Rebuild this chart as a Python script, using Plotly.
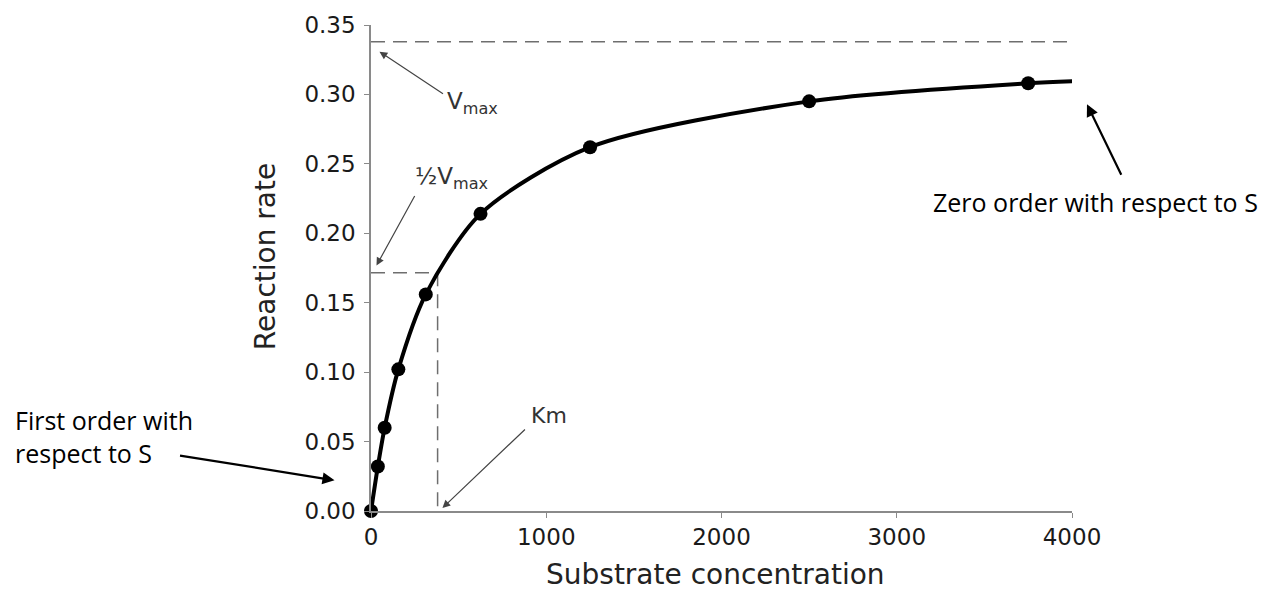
import plotly.graph_objects as go

# ---- data ----
substrate = [0, 39, 78, 156, 312.5, 625, 1250, 2500, 3750]
rate = [0.0, 0.032, 0.060, 0.102, 0.156, 0.214, 0.262, 0.295, 0.308]
curve_end_x = [4020]
curve_end_y = [0.3095]
vmax = 0.338
half_vmax = 0.1715
km = 380
x_ticks = [0, 1000, 2000, 3000, 4000]
y_ticks = [0.00, 0.05, 0.10, 0.15, 0.20, 0.25, 0.30, 0.35]

W, H = 1268, 592
L, R, T, B = 370.5, 196, 20, 81
PW, PH = W - L - R, H - T - B


def px(x):
    return (x - L) / PW


def py(y):
    return (H - B - y) / PH


fig = go.Figure()

# dashed guide lines
dash = "14px,8px"
gcol = "#6e6e6e"
fig.add_trace(go.Scatter(x=[0, 3980], y=[vmax, vmax], mode="lines",
                         line=dict(color=gcol, width=1.5, dash=dash),
                         hoverinfo="skip", showlegend=False))
fig.add_trace(go.Scatter(x=[0, km, km], y=[half_vmax, half_vmax, 0], mode="lines",
                         line=dict(color=gcol, width=1.5, dash=dash),
                         hoverinfo="skip", showlegend=False))

# curve
fig.add_trace(go.Scatter(x=substrate + curve_end_x, y=rate + curve_end_y, mode="lines",
                         line=dict(color="black", width=4, shape="spline", smoothing=0.8),
                         cliponaxis=False, showlegend=False))
# points
fig.add_trace(go.Scatter(x=substrate, y=rate, mode="markers",
                         marker=dict(color="black", size=14),
                         cliponaxis=False, showlegend=False))

ann = []


def arrow(head, tail, color, width, size=1.0):
    ann.append(dict(xref="paper", yref="paper", x=px(head[0]), y=py(head[1]),
                    ax=tail[0] - head[0], ay=tail[1] - head[1], axref="pixel", ayref="pixel",
                    text="", showarrow=True, arrowhead=2, arrowsize=size,
                    arrowwidth=width, arrowcolor=color, standoff=0, startstandoff=0))


def label(text, x, y, xanchor, size, color, family="DejaVu Sans", align="left"):
    ann.append(dict(xref="paper", yref="paper", x=px(x), y=py(y), text=text,
                    showarrow=False, xanchor=xanchor, yanchor="middle", align=align,
                    font=dict(family=family, size=size, color=color)))


arrow((379, 47), (444, 90), "#444", 1.2, 1.3)
arrow((376, 263), (415, 192), "#444", 1.2, 1.3)
arrow((442, 508), (526, 428), "#444", 1.2, 1.3)
arrow((1087, 100), (1122, 172), "black", 2.2, 1.1)
arrow((334, 480), (178, 455), "black", 2.2, 1.1)

label("V<sub>max</sub>", 445, 99, "left", 23, "#333")
label("½V<sub>max</sub>", 413, 175, "left", 23, "#333")
label("Km", 549, 415, "center", 22, "#333")
label("Zero order with respect to S", 931, 199, "left", 25, "black", family="Open Sans")
label("First order with<br>respect to S", 12, 436, "left", 25, "black", family="Open Sans")

# axis titles
ann.append(dict(xref="paper", yref="paper", x=px(265), y=py(254), text="Reaction rate",
                textangle=-90, showarrow=False, xanchor="center", yanchor="middle",
                font=dict(family="DejaVu Sans", size=28, color="#222")))
ann.append(dict(xref="paper", yref="paper", x=px(715), y=py(575), text="Substrate concentration",
                showarrow=False, xanchor="center", yanchor="middle",
                font=dict(family="DejaVu Sans", size=28, color="#222")))

axis_common = dict(showgrid=False, zeroline=False, showline=True, linecolor="#8a8a8a",
                   linewidth=1.5, ticks="outside", ticklen=5, tickcolor="#8a8a8a",
                   tickwidth=1.2, tickfont=dict(family="DejaVu Sans", size=23, color="#1a1a1a"))

fig.update_layout(
    width=W, height=H,
    margin=dict(l=L, r=R, t=T, b=B, pad=0),
    paper_bgcolor="white", plot_bgcolor="white",
    xaxis=dict(range=[0, 4000], tickvals=x_ticks, **axis_common),
    yaxis=dict(range=[0, 0.35], tickvals=y_ticks, tickformat=".2f",
               ticklabelstandoff=4, **axis_common),
    annotations=ann,
    showlegend=False,
)

fig.write_html("out.html", config={"displayModeBar": False},
               post_script="document.body.style.margin='0';document.body.style.overflow='hidden';")
